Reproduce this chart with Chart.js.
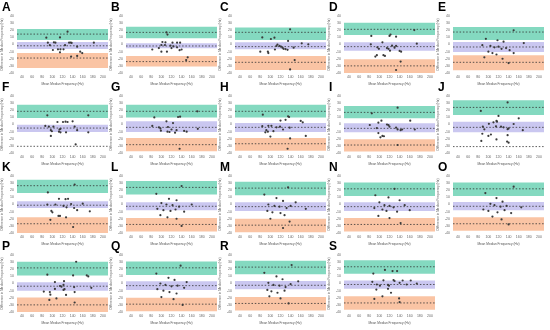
<!DOCTYPE html>
<html>
<head>
<meta charset="utf-8">
<script src="https://cdn.jsdelivr.net/npm/chart.js@4"></script>
<style>
  body { margin: 0; background: #fff; width: 550px; height: 330px; overflow: hidden; position: relative;
         font-family: "Liberation Sans", Arial, sans-serif; }
  .panel { position: absolute; width: 112px; height: 86px; }
  .panel canvas { position: absolute; left: 0; top: 0; }
  .tag { position: absolute; left: 2px; top: 1px; font-weight: bold; font-size: 12px; line-height: 12px; color: #000; }
</style>
</head>
<body>
<script>
// axis ticks
const xTicks = [40, 60, 80, 100, 120, 140, 160, 180, 200];
const yTicks = [40, 30, 20, 10, 0, -10, -20, -30, -40];
const panelLabels = ['A','B','C','D','E','F','G','H','I','J','K','L','M','N','O','P','Q','R','S'];

// bias and limits of agreement with their confidence bands, one entry per panel (null = no band)
const biasMid = [-1.8, -2.1, -3, -3, -3.5, -5, -4, -4, -5.4, -4, -1, -2.5, -3, -3, -2.5, -3.8, -3, -2.5, -1.4];
const biasHi  = [3.4, 1.6, 3, 3, 3.4, -0.2, 4.4, 2, 1.6, 4, 4.4, 3, 3, 3, 3.5, 1.9, 3, 3.5, 4.2];
const biasLo  = [-6.4, -5.4, -6.8, -8.7, -10.6, -10.5, -10.5, -10.5, -11, -11, -5, -8, -9, -9, -8, -10, -9, -8, -7.5];
const upMid   = [14.6, 17, 17.1, 21.3, 17.5, 18.5, 18.5, 18.5, 17, 24, 26.4, 24, 23, 22, 22, 21.9, 22, 23, 23.5];
const upHi    = [21.7, 25, 24, 30.6, 24.6, 27.8, 27.8, 27.8, 26, 34, 34.9, 33, 32, 31, 31, 30.5, 31, 32, 32.5];
const upLo    = [6.2, 8.7, 6.3, 13.3, 6.3, 9.1, 10, 10, 8.7, 13.3, 16.1, 14, 13, 12, 12, 11.4, 12, 13, 13.6];
const lowMid  = [-19, -24, -25, -30, -25, -30.6, -28.3, -27, -28.8, -31, -27, -28, -29, -28, -27, -30, -29, -28, -27.3];
const lowHi   = [-12, -16, -16, -20.8, -15, null, -19, -19, -20.8, null, -18, -19, -20, -19, -18, -19.5, -20, -19, -18];
const lowLo   = [-33, -31, -35.8, -41, -36, null, -37.7, -36.7, -38, null, -40, -38, -39, -38, -37, -40, -39, -38, -36.7];

// (mean, difference) pairs per panel
const ptsA = [[130,18],[88,9.6],[115,10],[91,2.6],[103,3],[106,2.5],[133,2.5],[136,2.8],[138,2.2],[182,2.6],[101,-7.7],[111,-6.8],[116,-6.8],[122,-6.8],[115,-11],[149,-3],[155,-10],[159,-12],[137,-17],[149,-16],[95,-1],[125,-1]];
const ptsB = [[110,17],[112,14],[102,3.5],[108,3],[122,2.6],[131,2.6],[137,2.6],[100,-0.7],[107,-0.7],[118,-1.6],[124,-2.5],[131,-4],[82,-7],[100,-10],[111,-10],[140,-7],[136,-8],[152,-18],[149,-21.8],[95,-5],[120,-5]];
const ptsC = [[139,21.3],[84,10],[101,7.7],[108,9.6],[135,5],[162,1.6],[175,0.2],[114,0],[118,-2],[121,-3],[124,-4.4],[146,-4.4],[80,-10],[95,-10],[96,-12],[109,-7],[130,-6.5],[134,-7.5],[126,-6],[148,-21.8],[139,-35],[112,-2]];
const ptsD = [[84,12],[120,12],[122,14],[133,11],[169,20.3],[174,1.2],[83,0.2],[106,3],[96,-4],[99,-6],[115,-5],[121,-8.6],[118,-6],[125,-1.6],[133,-2],[130,-4.4],[140,-9],[143,-10],[108,-15],[111,-16],[92,-17],[95,-15],[142,-24],[133,-35.8]];
const ptsE = [[150,20],[95,8],[118,6],[130,4],[170,2],[88,-1],[104,-2],[112,-4],[120,-3],[126,-6],[135,-5],[142,-8],[100,-10],[108,-12],[116,-14],[150,-12],[92,-18],[128,-20],[140,-26]];
const ptsF = [[90,12.9],[171,12.9],[110,3.5],[121,3.5],[126,4],[130,3.5],[140,4.5],[86,-2],[93,-3],[102,-3],[116,-6],[114,-7],[144,-3],[97,-8],[99,-9.5],[113,-10],[116,-11],[149,-8],[127,-11],[171,-11],[97,-16],[146,-28]];
const ptsG = [[171,18.5],[86,10],[133,10.5],[137,11],[110,4.4],[123,2],[82,-2],[95,-4],[98,-5.5],[99,-8.6],[113,-3.5],[120,-7],[112,-10],[116,-10.5],[130,-8],[127,-11.5],[145,-9],[150,-10],[172,-6],[136,-34]];
const ptsH = [[85,13.8],[135,11.5],[137,10.5],[130,6.5],[120,5.5],[160,5],[164,3],[84,-2.3],[96,-1.8],[102,-1.8],[92,-8],[95,-10],[90,-11],[106,-9.3],[112,-4],[119,-3],[125,-7],[138,-4.5],[170,-16],[100,-17],[139,-19.5],[134,-34]];
const ptsI = [[136,23.6],[85,15.7],[104,5.4],[161,5.4],[81,-0.7],[98,2.6],[115,0],[118,-1],[120,-3],[133,-4.5],[136,-7],[142,-8],[145,-7],[170,-7],[95,-5],[98,-12],[106,-16],[109,-16.5],[102,-18],[136,-28.8]];
const ptsJ = [[138,31],[85,19],[120,12],[160,8.6],[101,1],[110,3],[116,5],[117,4],[150,0.7],[89,-3],[92,-6.8],[115,-2.5],[125,-3],[130,-4],[138,-6.5],[140,-5.5],[168,-8],[88,-13],[100,-16],[105,-14],[86,-23],[116,-21],[137,-24],[140,-25.5],[138,-15]];
const ptsK = [[144,28],[91,17],[113,8],[126,7.5],[131,8],[90,0],[106,0],[122,-2],[128,-4],[137,0.7],[160,1.2],[143,-4.9],[149,-8],[174,-9.6],[98,-9],[100,-11],[112,-16],[115,-16],[127,-18],[96,-21.5],[141,-31.6]];
const ptsL = [[140,26],[90,15],[115,8],[130,6],[100,2],[110,0],[122,-1],[135,-3],[160,0],[92,-6],[104,-8],[118,-9],[128,-7],[145,-10],[98,-15],[112,-18],[130,-20],[140,-30]];
const ptsM = [[135,24],[88,14],[112,9],[125,5],[150,3],[96,0],[108,-2],[118,-3],[132,-5],[140,-2],[170,-6],[94,-9],[104,-11],[120,-12],[128,-15],[100,-20],[138,-24],[125,-33]];
const ptsN = [[130,22],[92,13],[118,10],[140,6],[100,3],[110,-1],[120,-2],[128,-4],[150,-1],[90,-5],[106,-7],[114,-9],[135,-10],[160,-8],[98,-16],[120,-19],[142,-26]];
const ptsO = [[150,25],[94,16],[116,9],[128,4],[104,1],[112,-1],[124,-3],[136,-2],[165,-4],[90,-7],[100,-9],[118,-11],[132,-8],[145,-12],[108,-17],[126,-21],[140,-28]];
const ptsP = [[147,30.5],[90,12.4],[141,11.4],[168,11.4],[171,10],[105,2],[123,3.3],[122,-2],[115,-3.5],[118,-4.5],[124,-8],[122,-9],[105,-7.6],[143,-5],[144,-12],[177,-6],[83,-11.4],[95,-12],[96,-15.7],[127,-16],[94,-23],[108,-21],[144,-26.7]];
const ptsQ = [[138,25],[90,14],[114,8],[126,5],[150,2],[98,0],[108,-2],[120,-4],[132,-3],[145,-6],[92,-8],[104,-10],[116,-12],[130,-14],[100,-19],[124,-22],[142,-30]];
const ptsR = [[142,26],[88,15],[112,10],[124,6],[155,3],[96,1],[106,-2],[118,-3],[130,-5],[140,-1],[94,-9],[102,-11],[114,-13],[128,-10],[98,-18],[120,-21],[136,-28]];
const ptsS = [[88,14],[111,19],[126,17.4],[135,17.4],[86,2.4],[108,4.5],[128,4.8],[130,3.5],[146,4.2],[162,4.2],[174,0],[95,-1.4],[101,-3],[117,-2],[119,-3],[140,1],[154,-1.4],[94,-8.5],[117,-7.5],[123,-13],[106,-18],[90,-21.6],[139,-21],[140,-26]];
const allPoints = [ptsA, ptsB, ptsC, ptsD, ptsE, ptsF, ptsG, ptsH, ptsI, ptsJ, ptsK, ptsL, ptsM, ptsN, ptsO, ptsP, ptsQ, ptsR, ptsS];

const colLeft = [0, 109, 218, 327, 436];
const rowTop = [0, 80, 160, 239];
const xMin = 30, xMax = 210;

function flatLine(y){
  return [{x: xMin, y: y}, {x: xMax, y: y}];
}

function band(hi, lo, color){
  return { type: 'line', data: flatLine(hi), borderWidth: 0, pointRadius: 0,
           backgroundColor: color, fill: {value: lo}, order: 2 };
}

function dashed(y){
  return { type: 'line', data: flatLine(y), borderColor: '#333', borderWidth: 0.8,
           borderDash: [1.5, 1.8], pointRadius: 0, fill: false, order: 1 };
}

function makePanel(i){
  const div = document.createElement('div');
  div.className = 'panel';
  div.style.left = colLeft[i % 5] + 'px';
  div.style.top = rowTop[Math.floor(i / 5)] + 'px';
  const canvas = document.createElement('canvas');
  canvas.width = 112;
  canvas.height = 86;
  div.appendChild(canvas);
  const tag = document.createElement('div');
  tag.className = 'tag';
  tag.textContent = panelLabels[i];
  div.appendChild(tag);
  document.body.appendChild(div);

  const datasets = [{
    type: 'scatter',
    data: allPoints[i].map(p => ({x: p[0], y: p[1]})),
    pointRadius: 1.1, pointBackgroundColor: '#3a3a3a', pointBorderWidth: 0, order: 0
  }];
  datasets.push(dashed(upMid[i]));
  datasets.push(dashed(biasMid[i]));
  datasets.push(dashed(lowMid[i]));
  datasets.push(band(upHi[i], upLo[i], 'rgb(132,217,192)'));
  datasets.push(band(biasHi[i], biasLo[i], 'rgb(202,199,240)'));
  if (lowHi[i] !== null) {
    datasets.push(band(lowHi[i], lowLo[i], 'rgb(250,196,164)'));
  }

  new Chart(canvas, {
    type: 'scatter',
    data: { datasets: datasets },
    options: {
      responsive: false,
      animation: false,
      devicePixelRatio: 1,
      layout: { padding: { top: 16, right: 0, left: 0, bottom: 0 } },
      plugins: { legend: { display: false }, tooltip: { enabled: false } },
      scales: {
        x: {
          type: 'linear', min: xMin, max: xMax,
          afterBuildTicks: s => { s.ticks = xTicks.map(v => ({value: v})); },
          afterFit: s => { s.height = 13; },
          grid: { display: false, drawTicks: false }, border: { display: false },
          ticks: { font: { size: 3.5 }, color: '#666', padding: 2, maxRotation: 0, autoSkip: false },
          title: { display: true, text: 'Mean Median Frequency (Hz)', font: { size: 3.2 }, color: '#555', padding: { top: 1, bottom: 0 } }
        },
        y: {
          min: -40, max: 40,
          afterBuildTicks: s => { s.ticks = yTicks.map(v => ({value: v})); },
          afterFit: s => { s.width = 17; },
          grid: { display: false, drawTicks: false }, border: { display: false },
          ticks: { font: { size: 3.5 }, color: '#666', padding: 3, autoSkip: false },
          title: { display: true, text: 'Difference in Median Frequency (Hz)', font: { size: 3.2 }, color: '#555', padding: { top: 0, bottom: 1 } }
        }
      }
    }
  });
}

for (let i = 0; i < panelLabels.length; i++) {
  makePanel(i);
}
</script>
</body>
</html>
